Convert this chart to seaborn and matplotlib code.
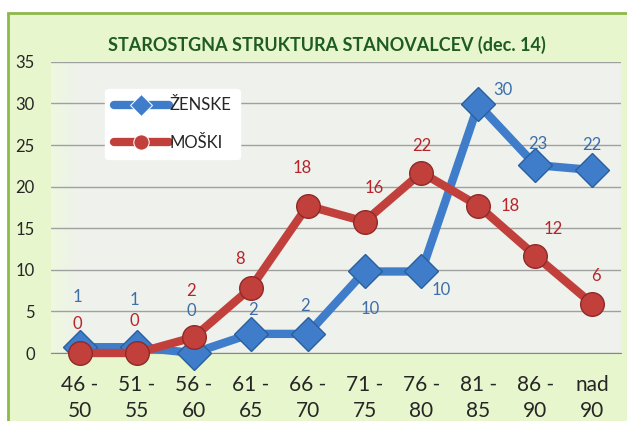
import pandas as pd
import matplotlib.pyplot as plt
import matplotlib.patches as mpatches
import seaborn as sns
import numpy as np

# starostne skupine in deleži (odčitano s slike)
skupine = ["46 -\n50", "51 -\n55", "56 -\n60", "61 -\n65", "66 -\n70",
           "71 -\n75", "76 -\n80", "81 -\n85", "86 -\n90", "nad\n90"]
zenske = [0.7, 0.7, 0.0, 2.3, 2.3, 9.8, 9.8, 29.9, 22.6, 22.0]
moski = [0.0, 0.0, 1.9, 7.8, 17.7, 15.8, 21.7, 17.7, 11.7, 5.9]

# zamiki oznak (v točkah) - samo za postavitev
off_z = [(-2, 36), (-2, 34), (-2, 30), (2, 17), (-2, 20), (4, -27), (14, -13), (18, 10), (2, 15), (0, 18)]
off_m = [(-2, 21), (-2, 23), (-2, 33), (-8, 21), (-4, 27), (7, 24), (0, 19), (23, 0), (13, 19), (3, 20)]

modra = "#3f7dcb"
rdeca = "#c2403c"

df = pd.DataFrame({
    "skupina": skupine * 2,
    "vrednost": zenske + moski,
    "spol": ["ŽENSKE"] * len(skupine) + ["MOŠKI"] * len(skupine),
})

sns.set_style("white")
plt.rcParams["font.family"] = ["Lato", "DejaVu Sans"]

fig = plt.figure(figsize=(6.27, 4.21), dpi=100, facecolor="white")
# zeleno ozadje z robom
bg = mpatches.Rectangle((8 / 627, -0.01), 1, 1 - 13 / 421 + 0.01, transform=fig.transFigure,
                        facecolor="#e8f6cd", edgecolor="#8db84a", linewidth=2, zorder=-5)
fig.patches.append(bg)

ax = fig.add_axes([0.082, 0.1615, 0.908, 0.6915])
ax.set_facecolor("white")

# rahel zelen preliv na levi strani risalne površine
grad = np.linspace(0, 1, 256).reshape(1, -1)
ax.imshow(np.clip(grad * 20, 0, 1), extent=(-0.5, 9.5, 0, 35), aspect="auto",
          cmap=sns.light_palette("#eef8df", reverse=True, as_cmap=True), zorder=0)

sns.lineplot(data=df, x="skupina", y="vrednost", hue="spol", style="spol",
             markers={"ŽENSKE": "D", "MOŠKI": "o"}, dashes=False, sort=False,
             palette={"ŽENSKE": modra, "MOŠKI": rdeca}, linewidth=6, markersize=17,
             ax=ax, zorder=3)
for ln, ec in zip(ax.lines, ["#2a5f9e", "#8e2a27"]):
    ln.set_markeredgecolor(ec)
    ln.set_markeredgewidth(1)
    ln.set_clip_on(False)

for i, (v, o) in enumerate(zip(zenske, off_z)):
    ax.annotate(f"{v:.0f}", (i, v), xytext=o, textcoords="offset points",
                ha="center", va="center", color="#3d6ea8", fontsize=12, zorder=5)
for i, (v, o) in enumerate(zip(moski, off_m)):
    ax.annotate(f"{v:.0f}", (i, v), xytext=o, textcoords="offset points",
                ha="center", va="center", color="#b8242a", fontsize=12, zorder=5)

ax.set_xlim(-0.5, 9.5)
ax.set_ylim(0, 35)
ax.set_yticks(range(0, 36, 5))
ax.grid(axis="y", color="#a0a0a0", linewidth=1)
ax.set_axisbelow(True)
for s in ["top", "right", "left"]:
    ax.spines[s].set_visible(False)
ax.spines["bottom"].set_color("#888888")
ax.tick_params(axis="y", length=6, color="#a0a0a0", labelsize=12, pad=6)
ax.tick_params(axis="x", length=0, labelsize=15, pad=16)
for t in ax.get_xticklabels():
    t.set_linespacing(1.35)
ax.set_xlabel("")
ax.set_ylabel("")

leg = ax.legend(loc="upper left", bbox_to_anchor=(0.08, 0.935), frameon=True, fontsize=12,
                handlelength=3.3, handletextpad=0.05, labelspacing=1.3, borderpad=0.5,
                markerscale=0.65)
leg.get_frame().set_facecolor("white")
leg.get_frame().set_edgecolor("white")
leg.get_frame().set_alpha(1)

fig.text(0.522, 1 - 45 / 421, "STAROSTGNA STRUKTURA STANOVALCEV (dec. 14)",
         ha="center", va="center", fontsize=13, fontweight="bold", color="#1f5c24",
         family=["Lato", "DejaVu Sans"])

fig.savefig("out.png", dpi=100, facecolor="white")
